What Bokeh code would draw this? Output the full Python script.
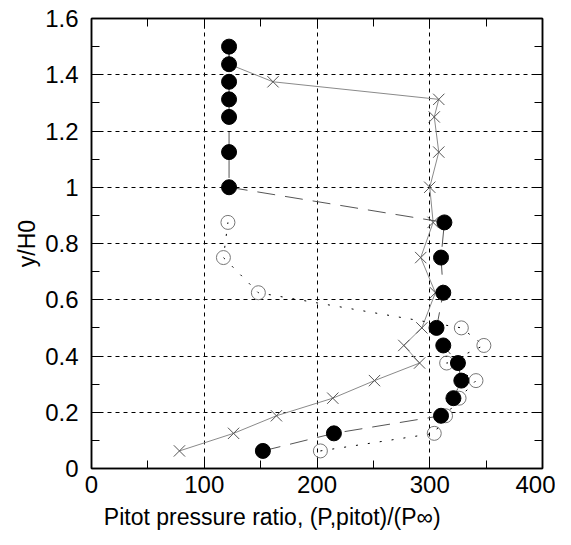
from bokeh.plotting import figure
from bokeh.models import LinearAxis, FixedTicker, Range1d
from bokeh.embed import file_html
from bokeh.resources import INLINE

# --- data ---
y_levels = [0.0625, 0.125, 0.1875, 0.25, 0.3125, 0.375, 0.4375, 0.5, 0.625,
            0.75, 0.875, 1.0, 1.125, 1.25, 1.3125, 1.375, 1.4375, 1.5]
x_cross = [78, 126, 164, 214, 251, 291, 277, 293, 305, 292, 303, 300, 308,
           304, 308, 161, 122, 122]
x_filled = [152, 215, 310, 321, 328, 325, 312, 306, 312, 310, 313, 122, 122,
            122, 122, 122, 122, 122]
y_open = [0.0625, 0.125, 0.1875, 0.25, 0.3125, 0.375, 0.4375, 0.5, 0.625,
          0.75, 0.875]
x_open = [203, 304, 314, 326, 341, 315, 348, 328, 148, 117, 121]

x_ticks = [0, 100, 200, 300, 400]
x_minor = [0, 50, 100, 150, 200, 250, 300, 350, 400]
y_ticks = [0, 0.2, 0.4, 0.6, 0.8, 1.0, 1.2, 1.4, 1.6]
y_minor = [0, 0.1, 0.2, 0.3, 0.4, 0.5, 0.6, 0.7, 0.8, 0.9, 1.0, 1.1, 1.2,
           1.3, 1.4, 1.5, 1.6]
y_tick_labels = ["0", "0.2", "0.4", "0.6", "0.8", "1", "1.2", "1.4", "1.6"]
x_title = "Pitot pressure ratio, (P,pitot)/(P\u221e)"
y_title = "y/H0"

FONT = "Liberation Sans"
# trailing no-break spaces shift the centred x title left, as in the reference
X_TITLE_PAD = "\u00a0" * 14

p = figure(width=563, height=537, output_backend="svg", toolbar_location=None,
           x_range=Range1d(0, 400), y_range=Range1d(0, 1.6),
           x_axis_location=None, y_axis_location=None,
           min_border_left=91, min_border_right=13, min_border_top=18,
           min_border_bottom=69)
p.frame_width = 451
p.frame_height = 450
p.background_fill_color = "white"
p.border_fill_color = "white"
p.outline_line_color = "black"
p.outline_line_width = 1.5

bottom = LinearAxis()
bottom.ticker = FixedTicker(ticks=x_ticks, minor_ticks=x_minor)
top = LinearAxis()
top.ticker = FixedTicker(ticks=x_ticks, minor_ticks=x_minor)
left = LinearAxis()
left.ticker = FixedTicker(ticks=y_ticks, minor_ticks=y_minor)
right = LinearAxis()
right.ticker = FixedTicker(ticks=y_ticks, minor_ticks=y_minor)

for ax, show in ((bottom, True), (left, True), (top, False), (right, False)):
    ax.axis_line_color = "black"
    ax.axis_line_width = 1.5
    ax.major_tick_in = 10
    ax.major_tick_out = 0
    ax.minor_tick_in = 8
    ax.minor_tick_out = 0
    ax.major_tick_line_color = "black"
    ax.minor_tick_line_color = "black"
    ax.major_label_text_font = FONT
    ax.major_label_text_color = "black"
    ax.major_label_text_font_size = "24px"
    ax.axis_label_text_color = "black"
    if not show:
        ticks = x_ticks if ax in (top, bottom) else y_ticks
        ax.major_label_overrides = {t: "" for t in ticks}
        ax.major_label_text_font_size = "1px"
        ax.major_label_standoff = 0

bottom.major_label_standoff = 7
bottom.axis_label = x_title + X_TITLE_PAD
bottom.axis_label_text_font = FONT
bottom.axis_label_text_font_size = "23px"
bottom.axis_label_text_font_style = "normal"
bottom.axis_label_standoff = 8

left.major_label_overrides = {t: s for t, s in zip(y_ticks, y_tick_labels)}
left.major_label_standoff = 13
left.axis_label = y_title
left.axis_label_text_font = FONT
left.axis_label_text_font_size = "23px"
left.axis_label_text_font_style = "normal"
left.axis_label_standoff = 2

p.add_layout(bottom, "below")
p.add_layout(left, "left")
p.add_layout(top, "above")
p.add_layout(right, "right")

# grid: dashed black at major ticks
p.xgrid.ticker = FixedTicker(ticks=x_ticks)
p.ygrid.ticker = FixedTicker(ticks=y_ticks)
for g in (p.xgrid, p.ygrid):
    g.grid_line_color = "black"
    g.grid_line_dash = "4 4"
    g.grid_line_width = 1

# crosses: thin solid gray line
p.line(x_cross, y_levels, line_color="#8a8a8a", line_width=1)
p.scatter(x_cross, y_levels, marker="x", size=16, line_color="#555555",
          line_width=1)

# open circles: dotted line
p.line(x_open, y_open, line_color="black", line_width=1, line_dash="2 10")
p.scatter(x_open, y_open, marker="circle", size=14, fill_color=None,
          line_color="#777777", line_width=1)

# filled circles: long-dash line
p.line(x_filled, y_levels, line_color="#555555", line_width=1,
       line_dash="18 10")
p.scatter(x_filled, y_levels, marker="circle", size=15, fill_color="black",
          line_color="black")

open("out.html", "w").write(file_html(p, INLINE))
